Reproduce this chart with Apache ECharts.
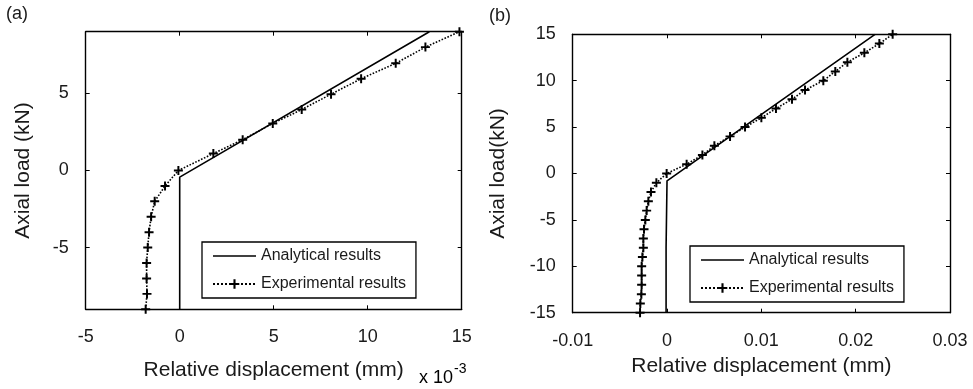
<!DOCTYPE html>
<html>
<head>
<meta charset="utf-8">
<script src="https://cdn.jsdelivr.net/npm/echarts@6/dist/echarts.min.js"></script>
<style>html,body{margin:0;padding:0;background:#fff}#c{width:973px;height:389px}</style>
</head>
<body>
<div id="c"></div>
<script>
// Panel (a): x in units of 1e-3 mm
var expA_x = [-1.81,-1.74,-1.76,-1.76,-1.70,-1.63,-1.52,-1.33,-0.78,-0.07,1.79,3.35,4.95,6.49,8.05,9.65,11.49,13.07,14.88];
var expA_y = [-9,-8,-7,-6,-5,-4,-3,-2,-1,0,1.1,2,3.05,3.95,4.95,5.95,6.95,8,9];
var anaA_x = [0,0,13.28];
var anaA_y = [-9,-0.43,9];
// Panel (b): x in mm
var expB_x = [-0.00286,-0.00283,-0.00272,-0.00269,-0.00269,-0.00269,-0.00261,-0.00251,-0.00251,-0.00244,-0.0023,-0.00216,-0.00198,-0.0017,-0.00113,-0.00004,0.00208,0.00375,0.00502,0.00668,0.00827,0.01,0.01155,0.01325,0.01463,0.01657,0.01784,0.01912,0.02092,0.02251,0.02392];
var expB_y = [-15,-14,-13,-12,-11,-10,-9,-8,-7,-6,-5,-4,-3,-2,-1,0,1,2,3,4,5,6,7,8,9,10,11,12,13,14,15];
var anaB_x = [-0.0001,-0.0001,0,0,0.02205];
var anaB_y = [-15,-8,-8,-0.79,15];
var ticksAx = [-5,0,5,10,15];
var ticksAy = [-5,0,5];
var ticksBx = [-0.01,0,0.01,0.02,0.03];
var ticksBy = [-15,-10,-5,0,5,10,15];
var names = ['Analytical results','Experimental results'];

function zip(xs, ys){ return xs.map(function(x,i){ return [x, ys[i]]; }); }

var FONT = 'Liberation Sans, Arial, Helvetica, sans-serif';
var TXT = '#1a1a1a';
var PLUS = 'path://M3.9,0H6.1V3.9H10V6.1H6.1V10H3.9V6.1H0V3.9H3.9Z';
var LINEICON = 'path://M0,0M0,12M0,5.3H43V6.7H0Z';

function mkAxis(dir, grid, pos, min, max, ticks, showLabel, extra){
  var a = {
    type: 'value', gridIndex: grid, position: pos, min: min, max: max,
    axisLine: {show: true, onZero: false, lineStyle: {color: '#000', width: 1.4}},
    axisTick: {show: true, inside: true, length: 4, customValues: ticks, lineStyle: {color: '#000', width: 1}},
    axisLabel: {show: showLabel, customValues: ticks, color: TXT, fontSize: 18, fontFamily: FONT, margin: dir === 'x' ? 19 : 17},
    splitLine: {show: false}
  };
  for (var k in extra) a[k] = extra[k];
  return a;
}

function mkLegend(left, top){
  return {orient: 'vertical', left: left, top: top, padding: [6, 10, 6, 10], itemGap: 12, itemWidth: 43, itemHeight: 12,
    borderColor: '#000', borderWidth: 1.3, backgroundColor: '#fff', selectedMode: false,
    textStyle: {color: TXT, fontSize: 16, fontFamily: FONT},
    data: [{name: names[0], icon: LINEICON, itemStyle: {color: '#000'}}, {name: names[1]}]};
}

var option = {
  animation: false,
  backgroundColor: '#fff',
  grid: [
    {left: 85.7, top: 31.7, width: 376, height: 277.6},
    {left: 572.7, top: 34.3, width: 377.3, height: 278.4}
  ],
  xAxis: [
    mkAxis('x', 0, 'bottom', -5, 15, ticksAx, true, {name: 'Relative displacement (mm)', nameLocation: 'middle', nameGap: 50, nameTextStyle: {color: TXT, fontSize: 21, fontFamily: FONT}}),
    mkAxis('x', 0, 'top', -5, 15, ticksAx, false, {}),
    mkAxis('x', 1, 'bottom', -0.01, 0.03, ticksBx, true, {name: 'Relative displacement (mm)', nameLocation: 'middle', nameGap: 43, nameTextStyle: {color: TXT, fontSize: 21, fontFamily: FONT}}),
    mkAxis('x', 1, 'top', -0.01, 0.03, ticksBx, false, {})
  ],
  yAxis: [
    mkAxis('y', 0, 'left', -9, 9, ticksAy, true, {name: 'Axial load (kN)', nameLocation: 'middle', nameGap: 52, nameTextStyle: {color: TXT, fontSize: 21, fontFamily: FONT}}),
    mkAxis('y', 0, 'right', -9, 9, ticksAy, false, {}),
    mkAxis('y', 1, 'left', -15, 15, ticksBy, true, {name: 'Axial load(kN)', nameLocation: 'middle', nameGap: 64, nameTextStyle: {color: TXT, fontSize: 21, fontFamily: FONT}}),
    mkAxis('y', 1, 'right', -15, 15, ticksBy, false, {})
  ],
  legend: [mkLegend(202, 242), mkLegend(690, 246)],
  graphic: [
    {type: 'text', left: 6, top: 5, style: {text: '(a)', fontSize: 18, fontFamily: FONT, fill: TXT}},
    {type: 'text', left: 489, top: 7, style: {text: '(b)', fontSize: 18, fontFamily: FONT, fill: TXT}},
    {type: 'text', left: 419, top: 362, style: {
      text: '{b|x 10}{s|-3}', rich: {
        b: {fontSize: 18, fontFamily: FONT, color: TXT, verticalAlign: 'bottom', padding: [7, 0, 0, 0]},
        s: {fontSize: 14, fontFamily: FONT, color: TXT, verticalAlign: 'top', padding: [0, 0, 8, 1]}
      }}}
  ],
  series: [
    {name: names[0], type: 'line', xAxisIndex: 0, yAxisIndex: 0, data: zip(anaA_x, anaA_y), symbol: 'none',
     lineStyle: {color: '#000', width: 1.6}, itemStyle: {color: '#000'}},
    {name: names[1], type: 'line', xAxisIndex: 0, yAxisIndex: 0, data: zip(expA_x, expA_y), symbol: PLUS, symbolSize: 9,
     lineStyle: {color: '#000', width: 1.6, type: 'dotted'}, itemStyle: {color: '#000'}},
    {name: names[0], type: 'line', xAxisIndex: 2, yAxisIndex: 2, data: zip(anaB_x, anaB_y), symbol: 'none',
     lineStyle: {color: '#000', width: 1.6}, itemStyle: {color: '#000'}},
    {name: names[1], type: 'line', xAxisIndex: 2, yAxisIndex: 2, data: zip(expB_x, expB_y), symbol: PLUS, symbolSize: 9,
     lineStyle: {color: '#000', width: 1.6, type: 'dotted'}, itemStyle: {color: '#000'}}
  ]
};
var chart = echarts.init(document.getElementById('c'), null, {renderer: 'canvas'});
chart.setOption(option);
</script>
</body>
</html>
